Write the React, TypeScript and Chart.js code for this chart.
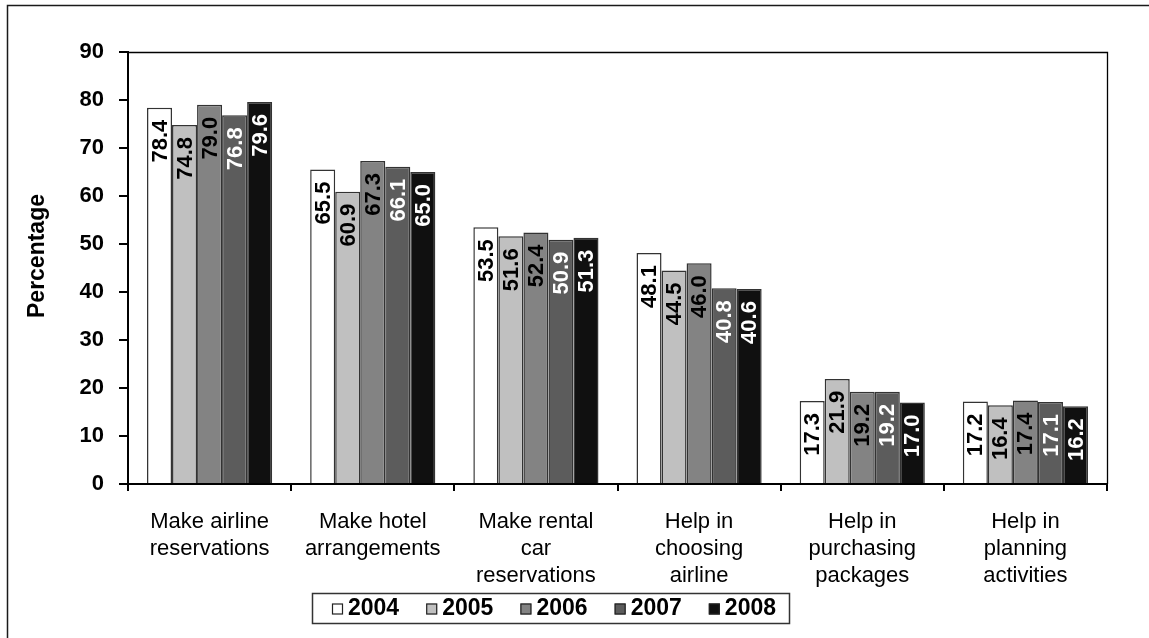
import React, { useEffect, useRef } from "react";
import { Chart, registerables } from "chart.js";

Chart.register(...registerables);

// ---- data ----
const categories: string[][] = [
  ["Make airline", "reservations"],
  ["Make hotel", "arrangements"],
  ["Make rental", "car", "reservations"],
  ["Help in", "choosing", "airline"],
  ["Help in", "purchasing", "packages"],
  ["Help in", "planning", "activities"],
];
const years = ["2004", "2005", "2006", "2007", "2008"];
const values2004 = [78.4, 65.5, 53.5, 48.1, 17.3, 17.2];
const values2005 = [74.8, 60.9, 51.6, 44.5, 21.9, 16.4];
const values2006 = [79.0, 67.3, 52.4, 46.0, 19.2, 17.4];
const values2007 = [76.8, 66.1, 50.9, 40.8, 19.2, 17.1];
const values2008 = [79.6, 65.0, 51.3, 40.6, 17.0, 16.2];
const yMin = 0;
const yMax = 90;
const yStep = 10;
const yTitle = "Percentage";

// ---- styles ----
const fills = ["#ffffff", "#c0c0c0", "#838383", "#5c5c5c", "#101010"];
const labelInk = ["#000000", "#000000", "#000000", "#ffffff", "#ffffff"];
const FONT = '"Liberation Sans", Arial, sans-serif';

const seriesValues = [values2004, values2005, values2006, values2007, values2008];

const decorPlugin = {
  id: "decor",
  afterDraw(chart: any) {
    const ctx = chart.ctx as CanvasRenderingContext2D;
    const area = chart.chartArea;
    ctx.save();
    // outer frame (left & top visible)
    ctx.strokeStyle = "#1a1a1a";
    ctx.lineWidth = 1.5;
    ctx.beginPath();
    ctx.moveTo(7.5, 700);
    ctx.lineTo(7.5, 5.5);
    ctx.lineTo(1200, 5.5);
    ctx.stroke();

    // plot area top & right border
    ctx.strokeStyle = "#000";
    ctx.lineWidth = 1.3;
    ctx.beginPath();
    ctx.moveTo(area.left, area.top + 0.5);
    ctx.lineTo(area.right + 0.5, area.top + 0.5);
    ctx.lineTo(area.right + 0.5, area.bottom);
    ctx.stroke();

    // y title
    ctx.fillStyle = "#000";
    ctx.font = `bold 23px ${FONT}`;
    ctx.textAlign = "center";
    ctx.textBaseline = "middle";
    ctx.translate(38, 256);
    ctx.rotate(-Math.PI / 2);
    ctx.fillText(yTitle, 0, 0);
    ctx.restore();

    // legend
    ctx.save();
    const lx0 = 312, lx1 = 789, ly0 = 593, ly1 = 623;
    ctx.fillStyle = "#fff";
    ctx.fillRect(lx0, ly0, lx1 - lx0, ly1 - ly0);
    ctx.strokeStyle = "#333";
    ctx.lineWidth = 1.5;
    ctx.strokeRect(lx0 + 0.5, ly0 + 0.5, lx1 - lx0, ly1 - ly0);
    ctx.font = `bold 23px ${FONT}`;
    ctx.textBaseline = "middle";
    ctx.textAlign = "left";
    const ds = chart.data.datasets;
    const box = 11, gap = 5;
    const widths = ds.map((d: any) => ctx.measureText(d.label).width);
    const startX = 332, endX = 776;
    const sum = widths.reduce((a: number, w: number) => a + box + gap + w, 0);
    const spacing = (endX - startX - sum) / (ds.length - 1);
    let x = startX;
    const cy = (ly0 + ly1) / 2 + 1;
    ds.forEach((d: any, i: number) => {
      ctx.fillStyle = d.backgroundColor;
      ctx.fillRect(x, cy - box / 2, box, box);
      ctx.strokeStyle = "#222";
      ctx.lineWidth = 1.2;
      ctx.strokeRect(x + 0.5, cy - box / 2 + 0.5, box - 1, box - 1);
      ctx.fillStyle = "#000";
      ctx.fillText(d.label, x + box + gap, cy);
      x += box + gap + widths[i] + spacing;
    });
    ctx.restore();
  },
};

const barLabelPlugin = {
  id: "barLabels",
  afterDatasetsDraw(chart: any) {
    const ctx = chart.ctx as CanvasRenderingContext2D;
    ctx.save();
    ctx.font = `bold 22px ${FONT}`;
    ctx.textAlign = "right";
    ctx.textBaseline = "middle";
    chart.data.datasets.forEach((d: any, di: number) => {
      const meta = chart.getDatasetMeta(di);
      meta.data.forEach((bar: any, i: number) => {
        const v = d.data[i];
        ctx.save();
        ctx.fillStyle = labelInk[di];
        ctx.translate(bar.x + 1, bar.y + 12);
        ctx.rotate(-Math.PI / 2);
        ctx.fillText(v.toFixed(1), 0, 0);
        ctx.restore();
      });
    });
    ctx.restore();
  },
};

export default function App() {
  const ref = useRef<HTMLCanvasElement | null>(null);
  useEffect(() => {
    if (!ref.current) return;
    const chart = new Chart(ref.current, {
      type: "bar",
      data: {
        labels: categories,
        datasets: years.map((y, i) => ({
          label: y,
          data: seriesValues[i],
          backgroundColor: fills[i],
          borderColor: "#333333",
          borderWidth: 1.5,
          categoryPercentage: 0.767,
          barPercentage: 1,
        })),
      },
      options: {
        responsive: false,
        animation: false,
        devicePixelRatio: 1,
        layout: { padding: { top: 52, right: 42, left: 0, bottom: 0 } },
        plugins: {
          legend: { display: false },
          tooltip: { enabled: false },
          title: { display: false },
        },
        scales: {
          x: {
            grid: {
              display: true,
              drawOnChartArea: false,
              offset: true,
              tickLength: 7,
              color: "#000",
              lineWidth: 2,
            },
            border: { display: true, color: "#000", width: 2 },
            ticks: {
              color: "#000",
              font: { family: FONT, size: 22, lineHeight: 1.24 },
              padding: 17,
              maxRotation: 0,
              autoSkip: false,
            },
            afterFit: (s: any) => {
              s.height = 154;
            },
          },
          y: {
            min: yMin,
            max: yMax,
            ticks: {
              stepSize: yStep,
              color: "#000",
              font: { family: FONT, size: 22, weight: "bold" },
              padding: 15,
            },
            grid: {
              display: true,
              drawOnChartArea: false,
              tickLength: 9,
              color: "#000",
              lineWidth: 2,
            },
            border: { display: true, color: "#000", width: 2 },
            afterFit: (s: any) => {
              s.width = 128;
            },
          },
        },
      },
      plugins: [decorPlugin, barLabelPlugin],
    });
    return () => chart.destroy();
  }, []);
  return (
    <div style={{ position: "absolute", left: 0, top: 0, width: 1149, height: 638, background: "#fff" }}>
      <canvas ref={ref} width={1149} height={638} style={{ display: "block", width: 1149, height: 638 }} />
    </div>
  );
}
